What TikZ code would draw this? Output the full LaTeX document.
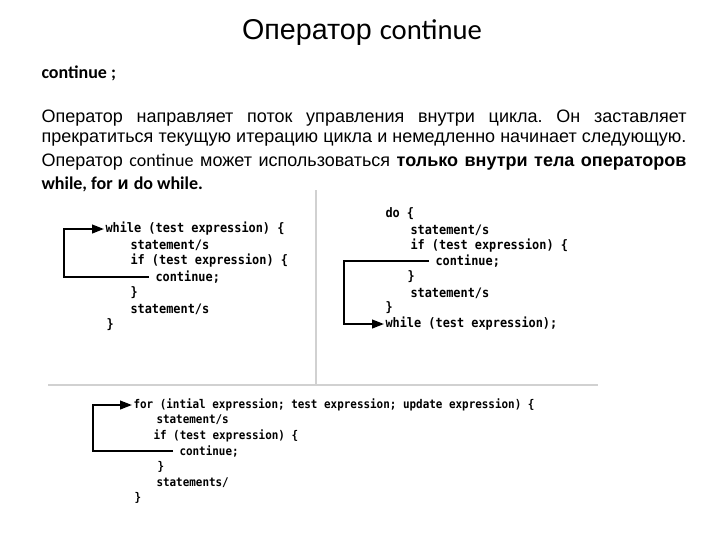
\documentclass[tikz,border=0pt]{standalone}
\usepackage{fontspec}
\setmainfont{Liberation Sans}
\newfontfamily\calfont{Carlito}
\newfontfamily\codefont[FakeStretch=0.91]{DejaVu Sans Mono}
\usetikzlibrary{arrows.meta}
\frenchspacing

\tikzset{every picture/.style={line width=0.75pt}}
\tikzset{
  codeline/.style={anchor=west,inner sep=0pt,font=\codefont\bfseries\fontsize{9.8}{9.8}\selectfont},
  smallcode/.style={anchor=west,inner sep=0pt,font=\codefont\bfseries\fontsize{9}{9}\selectfont},
  bodyline/.style={anchor=west,inner sep=0pt,font=\fontsize{13.5}{16}\selectfont},
  jumpline/.style={line width=1.5,-{Triangle[length=9pt,width=6.5pt]},shorten <=4.5pt,shorten >=0.75pt},
  rule/.style={draw=black!18,line width=1}
}
\newcommand{\fullline}[1]{\makebox[483.75pt][s]{#1}}

\begin{document}
\begin{tikzpicture}[x=0.75pt,y=0.75pt,yscale=-1,xscale=1]
\fill[white] (0,0) rectangle (720,540);
\path[use as bounding box] (0,0) rectangle (720,540);

% Title
\node (title) at (362,32) {\fontsize{21.5}{24}\selectfont Оператор {\calfont continue}};

% Text Node
\node[bodyline] (syntax) at (41,73) {\calfont\bfseries continue ;};
% Text Node
\node[bodyline] (par1) at (41,118) {\fullline{Оператор направляет поток управления внутри цикла. Он заставляет}};
\node[bodyline] (par2) at (41,140) {\fullline{прекратиться текущую итерацию цикла и немедленно начинает следующую.}};
\node[bodyline] (par3) at (41,162) {\fullline{Оператор {\calfont continue} может использоваться {\bfseries только внутри тела операторов}}};
\node[bodyline] (par4) at (41,184) {{\calfont\bfseries while, for} {\bfseries и} {\calfont\bfseries do while.}};

%Straight Lines
\draw[rule] (316,190) -- (316,385);
\draw[rule] (48,385) -- (598,385);

% while loop
\node[codeline] (wwhile) at (105,229) {while (test expression) \{};
\node[codeline] (wstat1) at (130,245) {statement/s};
\node[codeline] (wif) at (130,261) {if (test expression) \{};
\node[codeline] (wcont) at (155,277) {continue;};
\node[codeline] (wclose1) at (130,293) {\}};
\node[codeline] (wstat2) at (130,309) {statement/s};
\node[codeline] (wclose2) at (106,325) {\}};
\draw[jumpline] (wcont.west) -- ++(-91,0) |- (wwhile.west);

% do while loop
\node[codeline] (ddo) at (385,214) {do \{};
\node[codeline] (dstat1) at (410,230) {statement/s};
\node[codeline] (dif) at (410,246) {if (test expression) \{};
\node[codeline] (dcont) at (435,261) {continue;};
\node[codeline] (dclose1) at (407,277) {\}};
\node[codeline] (dstat2) at (410,293) {statement/s};
\node[codeline] (dclose2) at (385,308) {\}};
\node[codeline] (dwhile) at (385,324) {while (test expression);};
\draw[jumpline] (dcont.west) -- ++(-91,0) |- (dwhile.west);

% for loop
\node[smallcode] (ffor) at (133,405) {for (intial expression; test expression; update expression) \{};
\node[smallcode] (fstat1) at (156,420) {statement/s};
\node[smallcode] (fif) at (153,436) {if (test expression) \{};
\node[smallcode] (fcont) at (179,451) {continue;};
\node[smallcode] (fclose1) at (157,467) {\}};
\node[smallcode] (fstat2) at (156,483) {statements/};
\node[smallcode] (fclose2) at (134,498) {\}};
\draw[jumpline] (fcont.west) -- ++(-86,0) |- (ffor.west);

\end{tikzpicture}
\end{document}
